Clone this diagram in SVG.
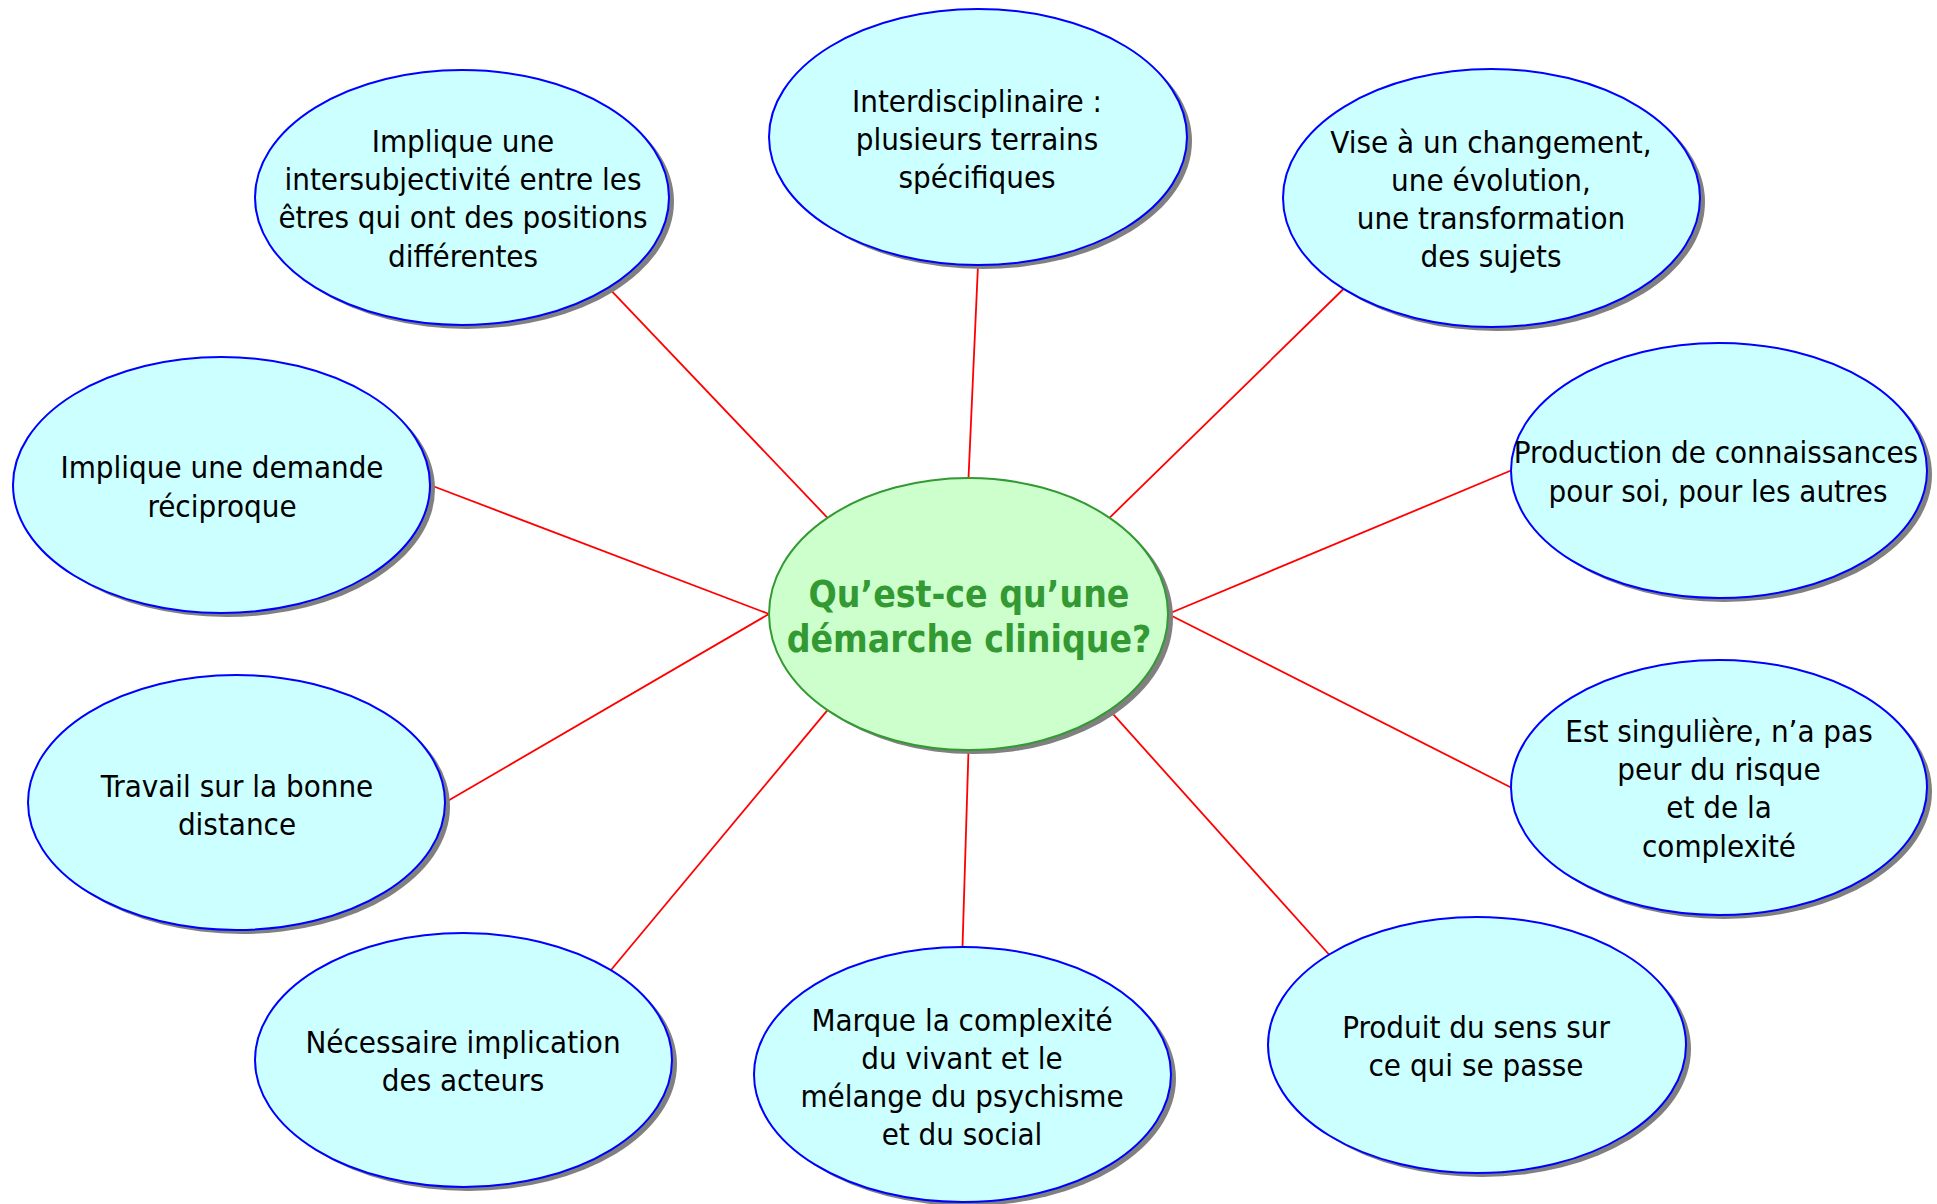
<svg xmlns="http://www.w3.org/2000/svg" width="1937" height="1204" viewBox="0 0 1937 1204">
<style>
.sh{fill:#808080;stroke:none}
.leaf{fill:#CCFFFF;stroke:#0000FF;stroke-width:2}
.hub{fill:#CCFFCC;stroke:#339933;stroke-width:2}
.t{font-family:"DejaVu Sans Condensed","DejaVu Sans",sans-serif;font-stretch:condensed;font-size:31px;fill:#000;text-anchor:middle}
.ht{font-family:"DejaVu Sans Condensed","DejaVu Sans",sans-serif;font-stretch:condensed;font-size:37px;font-weight:bold;fill:#339933;text-anchor:middle}
.c line{stroke:#FF0000;stroke-width:1.8}
</style>
<rect width="1937" height="1204" fill="#FFFFFF"/>
<g id="connectors" class="c">
<line x1="827.5" y1="517.8" x2="608.4" y2="287.6"/>
<line x1="968.5" y1="478" x2="978" y2="265"/>
<line x1="1109.5" y1="517.8" x2="1344" y2="288.5"/>
<line x1="1168" y1="614" x2="1511" y2="470.5"/>
<line x1="1168" y1="614" x2="1511" y2="787.5"/>
<line x1="1109.5" y1="710.2" x2="1329" y2="954.5"/>
<line x1="968.5" y1="750" x2="962.5" y2="947"/>
<line x1="827.5" y1="710.2" x2="611" y2="970"/>
<line x1="769" y1="614" x2="445" y2="802.5"/>
<line x1="769" y1="614" x2="430" y2="485"/>
</g>
<g id="hub">
<ellipse class="sh" cx="973.5" cy="618" rx="199.5" ry="136"/>
<ellipse class="hub" cx="968.5" cy="614" rx="199.5" ry="136"/>
<text class="ht" x="969" y="607">Qu’est-ce qu’une</text>
<text class="ht" x="969" y="652">démarche clinique?</text>
</g>
<g id="n-intersubjectivite">
<ellipse class="sh" cx="467" cy="201.5" rx="207" ry="127.5"/>
<ellipse class="leaf" cx="462" cy="197.5" rx="207" ry="127.5"/>
<text class="t" x="463" y="152">Implique une</text>
<text class="t" x="463" y="190">intersubjectivité entre les</text>
<text class="t" x="463" y="228">êtres qui ont des positions</text>
<text class="t" x="463" y="267">différentes</text>
</g>
<g id="n-interdisciplinaire">
<ellipse class="sh" cx="983" cy="141" rx="209" ry="128"/>
<ellipse class="leaf" cx="978" cy="137" rx="209" ry="128"/>
<text class="t" x="977" y="112">Interdisciplinaire :</text>
<text class="t" x="977" y="150">plusieurs terrains</text>
<text class="t" x="977" y="188">spécifiques</text>
</g>
<g id="n-changement">
<ellipse class="sh" cx="1496.5" cy="202" rx="208.5" ry="129"/>
<ellipse class="leaf" cx="1491.5" cy="198" rx="208.5" ry="129"/>
<text class="t" x="1491" y="153">Vise à un changement,</text>
<text class="t" x="1491" y="191">une évolution,</text>
<text class="t" x="1491" y="229">une transformation</text>
<text class="t" x="1491" y="267">des sujets</text>
</g>
<g id="n-production">
<ellipse class="sh" cx="1724" cy="474.5" rx="208" ry="127.5"/>
<ellipse class="leaf" cx="1719" cy="470.5" rx="208" ry="127.5"/>
<text class="t" x="1716" y="463">Production de connaissances</text>
<text class="t" x="1718" y="502">pour soi, pour les autres</text>
</g>
<g id="n-singuliere">
<ellipse class="sh" cx="1724" cy="791.5" rx="208" ry="127.5"/>
<ellipse class="leaf" cx="1719" cy="787.5" rx="208" ry="127.5"/>
<text class="t" x="1719" y="742">Est singulière, n’a pas</text>
<text class="t" x="1719" y="780">peur du risque</text>
<text class="t" x="1719" y="818">et de la</text>
<text class="t" x="1719" y="857">complexité</text>
</g>
<g id="n-sens">
<ellipse class="sh" cx="1482" cy="1049" rx="209" ry="128"/>
<ellipse class="leaf" cx="1477" cy="1045" rx="209" ry="128"/>
<text class="t" x="1476" y="1038">Produit du sens sur</text>
<text class="t" x="1476" y="1076">ce qui se passe</text>
</g>
<g id="n-complexite">
<ellipse class="sh" cx="967.5" cy="1078.5" rx="208.5" ry="127.5"/>
<ellipse class="leaf" cx="962.5" cy="1074.5" rx="208.5" ry="127.5"/>
<text class="t" x="962" y="1031">Marque la complexité</text>
<text class="t" x="962" y="1069">du vivant et le</text>
<text class="t" x="962" y="1107">mélange du psychisme</text>
<text class="t" x="962" y="1145">et du social</text>
</g>
<g id="n-implication">
<ellipse class="sh" cx="468.5" cy="1064" rx="208.5" ry="127"/>
<ellipse class="leaf" cx="463.5" cy="1060" rx="208.5" ry="127"/>
<text class="t" x="463" y="1053">Nécessaire implication</text>
<text class="t" x="463" y="1091">des acteurs</text>
</g>
<g id="n-distance">
<ellipse class="sh" cx="241.5" cy="806.5" rx="208.5" ry="127.5"/>
<ellipse class="leaf" cx="236.5" cy="802.5" rx="208.5" ry="127.5"/>
<text class="t" x="237" y="797">Travail sur la bonne</text>
<text class="t" x="237" y="835">distance</text>
</g>
<g id="n-demande">
<ellipse class="sh" cx="226.5" cy="489" rx="208.5" ry="128"/>
<ellipse class="leaf" cx="221.5" cy="485" rx="208.5" ry="128"/>
<text class="t" x="222" y="478">Implique une demande</text>
<text class="t" x="222" y="517">réciproque</text>
</g>
</svg>
